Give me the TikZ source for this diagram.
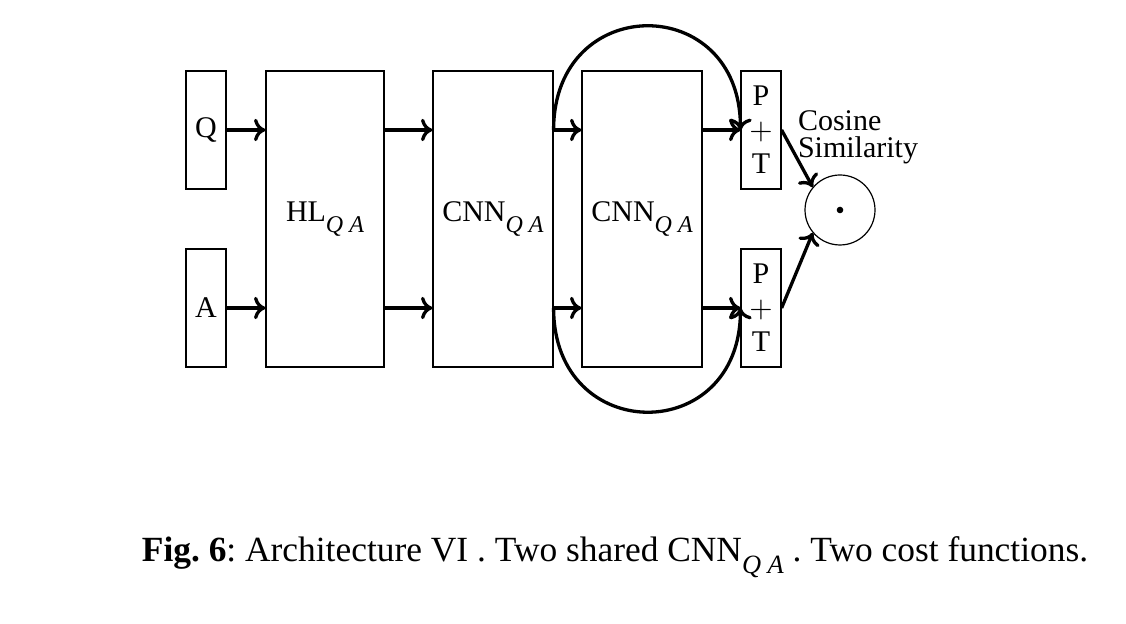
\documentclass[tikz,border=0pt]{standalone}
\usepackage{fontspec}
\setmainfont{Liberation Serif}
\usepackage{tikz}
\usetikzlibrary{positioning,arrows.meta}

\newcommand{\qasub}[1]{\raisebox{-0.35em}{\fontsize{#1}{#1}\selectfont\itshape Q\kern.25em A}}

\tikzset{
  blk/.style={draw, line width=0.4pt, inner sep=0pt, minimum width=#1},
  blk/.default=40pt,
  flow/.style={-{To[length=3.8pt, width=7.5pt]}, line width=1.1pt}
}

\begin{document}
\frenchspacing
\begin{tikzpicture}
    \useasboundingbox (0,0) rectangle (375.33pt,208pt);

    % Inputs
    \node[blk=13.33pt, minimum height=39.33pt] (q) at (68.67pt,164.67pt) {Q};
    \node[blk=13.33pt, minimum height=39.33pt] (a) at (68.67pt,105.33pt) {A};

    % Shared layers
    \node[blk=39.33pt, minimum height=98.67pt] (hl) at (108.33pt,135pt) {HL\qasub{8}};
    \node[blk, minimum height=98.67pt] (cnnA) at (164.33pt,135pt) {CNN\qasub{8}};
    \node[blk, minimum height=98.67pt] (cnnB) at (214pt,135pt) {CNN\qasub{8}};

    % Pooling + tanh
    \node[blk=13.33pt, minimum height=39.33pt, align=center, font=\fontsize{10}{11.3}\selectfont] (ptQ) at (253.67pt,164.67pt) {P\\$+$\\T};
    \node[blk=13.33pt, minimum height=39.33pt, align=center, font=\fontsize{10}{11.3}\selectfont] (ptA) at (253.67pt,105.33pt) {P\\$+$\\T};

    % Cosine similarity
    \node[draw, circle, line width=0.4pt, minimum size=23.33pt, inner sep=0pt] (cos) at (280pt,138pt) {};
    \fill (cos.center) circle (1.1pt);
    \node[anchor=west, inner sep=0pt, align=left, font=\fontsize{10}{9}\selectfont] (simlbl) at (265.8pt,162.3pt) {Cosine\\Similarity};

    % Arrows
    \draw[flow] (q) -- (hl.west |- q);
    \draw[flow] (a) -- (hl.west |- a);
    \draw[flow] (hl.east |- q) -- (cnnA.west |- q);
    \draw[flow] (hl.east |- a) -- (cnnA.west |- a);
    \draw[flow] (cnnA.east |- q) -- (cnnB.west |- q);
    \draw[flow] (cnnA.east |- a) -- (cnnB.west |- a);
    \draw[flow] (cnnB.east |- q) -- (ptQ);
    \draw[flow] (cnnB.east |- a) -- (ptA);

    % Skip connections
    \draw[flow] (cnnA.east |- q) to[out=90, in=90, looseness=1.9] (ptQ.west);
    \draw[flow] (cnnA.east |- a) to[out=-90, in=-90, looseness=1.9] (ptA.west);

    \draw[flow] (ptQ.east) -- (cos.140);
    \draw[flow] (ptA.east) -- (cos.220);

    % Caption
    \node (cap) at (205pt,22.3pt) {\fontsize{11.8}{14}\selectfont\textbf{Fig. 6}: Architecture VI . Two shared CNN\qasub{8.8} . Two cost functions.};
\end{tikzpicture}
\end{document}
